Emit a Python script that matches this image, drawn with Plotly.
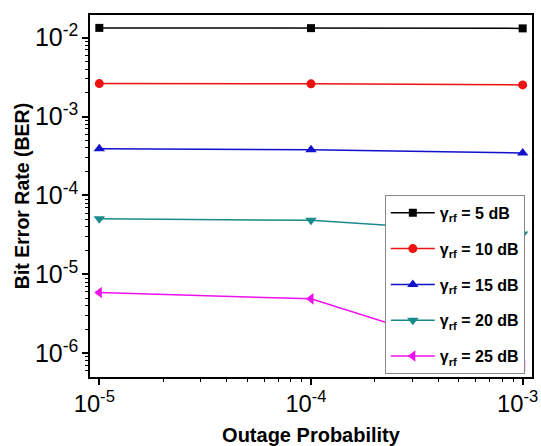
import plotly.graph_objects as go

outage = [1e-5, 1e-4, 1e-3]
labels = ["5 dB", "10 dB", "15 dB", "20 dB", "25 dB"]
ber_5 = [1.33e-2, 1.32e-2, 1.31e-2]
ber_10 = [2.62e-3, 2.6e-3, 2.52e-3]
ber_15 = [3.9e-4, 3.8e-4, 3.45e-4]
ber_20 = [5.07e-5, 4.85e-5, 3.25e-5]
ber_25 = [5.9e-6, 4.9e-6, 7.0e-7]

series = [ber_5, ber_10, ber_15, ber_20, ber_25]
colors = ["#000000", "#ee1111", "#1111cc", "#1a8a8a", "#ee11ee"]
symbols = ["square", "circle", "triangle-up", "triangle-down", "triangle-left"]
msizes = [8, 9, 10, 10, 10]

# use a plain hyphen in exponents, as in the reference
alias = {f"10<sup>\u2212{k}</sup>": f"10<sup>-{k}</sup>" for k in range(1, 9)}

fig = go.Figure()
for lab, ys, c, s, ms in zip(labels, series, colors, symbols, msizes):
    fig.add_trace(go.Scatter(
        x=outage, y=ys, mode="lines+markers",
        name=f"<b>γ<sub>rf</sub> = {lab}</b>",
        line=dict(color=c, width=1.5),
        marker=dict(symbol=s, size=ms, color=c),
        legendgroup=lab,
    ))

axis_common = dict(
    type="log", showgrid=False, zeroline=False, automargin=False,
    showline=True, linecolor="black", linewidth=1.5, mirror=True,
    ticks="outside", ticklen=6, tickwidth=1.5, tickcolor="black",
    exponentformat="power", dtick=1, labelalias=alias,
    minor=dict(ticks="outside", ticklen=3, tickcolor="black", tickwidth=1, showgrid=False),
    ticklabeloverflow="allow",
)

fig.update_layout(
    width=541, height=446,
    margin=dict(l=90, r=9, t=15, b=69),
    paper_bgcolor="white", plot_bgcolor="white",
    font=dict(family="Arial, Liberation Sans, sans-serif", color="black"),
    showlegend=True,
    legend=dict(
        x=0.667, y=0.503, xanchor="left", yanchor="top",
        bgcolor="white", bordercolor="#888888", borderwidth=1,
        font=dict(size=16, color="black"),
        tracegroupgap=12, itemwidth=44,
    ),
    xaxis=dict(
        **axis_common,
        range=[-5.044, -2.956],
        tickfont=dict(size=19, color="black"),
        ticklabelshift=-5,
        title=dict(text="<b>Outage Probability</b>", font=dict(size=20), standoff=12),
    ),
    yaxis=dict(
        **axis_common,
        range=[-6.3, -1.713],
        tickfont=dict(size=20, color="black"),
        title=dict(text="<b>Bit Error Rate (BER)</b>", font=dict(size=19.5), standoff=0),
    ),
)

fig.write_html("out.html")
